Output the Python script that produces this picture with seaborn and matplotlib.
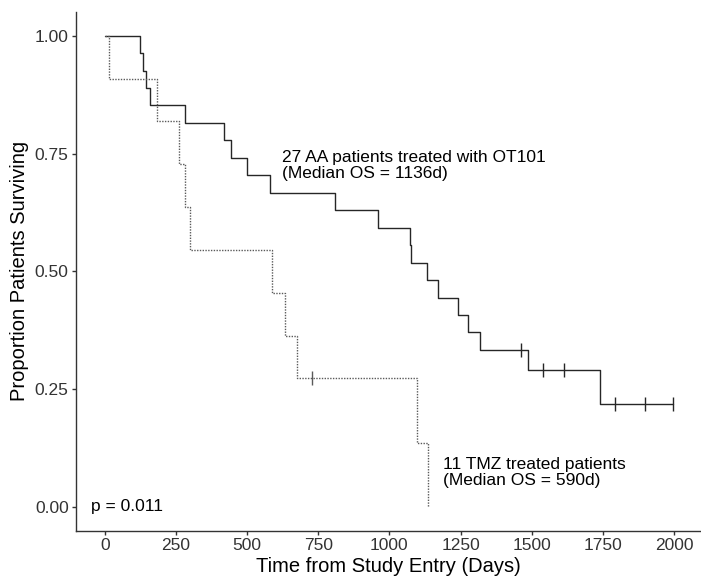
import numpy as np
import pandas as pd
import matplotlib
matplotlib.use("Agg")
import matplotlib.pyplot as plt
import seaborn as sns

# ---- data (days) ----
aa_event_times = [125, 134, 146, 158, 281, 420, 443, 499, 581, 808, 959, 1071, 1076,
                  1133, 1170, 1241, 1277, 1318, 1488, 1740]
aa_censor_times = [1464, 1541, 1541, 1612, 1792, 1897, 1995]
tmz_event_times = [14, 185, 262, 283, 300, 587, 634, 676, 1096, 1134]
tmz_censor_times = [727]

x_ticks = [0, 250, 500, 750, 1000, 1250, 1500, 1750, 2000]
y_ticks = [0.00, 0.25, 0.50, 0.75, 1.00]
label_aa = ["27 AA patients treated with OT101", "(Median OS = 1136d)"]
label_tmz = ["11 TMZ treated patients", "(Median OS = 590d)"]
p_label = "p = 0.011"


def km_curve(events, censors):
    times = sorted(set(events) | set(censors))
    n = len(events) + len(censors)
    s = 1.0
    xs, ys = [0.0], [1.0]
    cx, cy = [], []
    for t in times:
        d = events.count(t)
        c = censors.count(t)
        if d:
            s *= (1 - d / n)
        xs.append(t)
        ys.append(s)
        if c:
            cx.append(t)
            cy.append(s)
        n -= d + c
    return pd.DataFrame({"t": xs, "s": ys}), pd.DataFrame({"t": cx, "s": cy})


aa_curve, aa_cens = km_curve(aa_event_times, aa_censor_times)
tmz_curve, tmz_cens = km_curve(tmz_event_times, tmz_censor_times)

sns.set_theme(style="white")
plt.rcParams["font.family"] = ["Liberation Sans", "DejaVu Sans"]

fig = plt.figure(figsize=(7.01, 5.78), dpi=100)
ax = fig.add_axes([76.3 / 701, (578 - 530.6) / 578, (701 - 76.3) / 701, (530.6 - 12.1) / 578])

solid_col = "#262626"
dot_col = "#5a5a5a"

sns.lineplot(data=aa_curve, x="t", y="s", estimator=None, sort=False, ax=ax,
             drawstyle="steps-post", color=solid_col, lw=1.0)
sns.lineplot(data=tmz_curve, x="t", y="s", estimator=None, sort=False, ax=ax,
             drawstyle="steps-post", color=dot_col, lw=1.0, linestyle=(0, (1, 1)))
sns.scatterplot(data=aa_cens, x="t", y="s", marker="|", s=90, color=solid_col,
                linewidth=1.0, ax=ax)
sns.scatterplot(data=tmz_cens, x="t", y="s", marker="|", s=90, color=dot_col,
                linewidth=1.0, ax=ax)

ax.set_xlim(-99.75, 2094.75)
ax.set_ylim(-0.05, 1.05)
ax.set_xticks(x_ticks)
ax.set_xticklabels([str(v) for v in x_ticks])
ax.set_yticks(y_ticks)
ax.set_yticklabels([f"{v:.2f}" for v in y_ticks])

for side in ["top", "right"]:
    ax.spines[side].set_visible(False)
for side in ["left", "bottom"]:
    ax.spines[side].set_color("#333333")
    ax.spines[side].set_linewidth(1.0)

ax.tick_params(axis="both", which="both", length=3, width=1.0, color="#333333",
               labelsize=12.5, labelcolor="#333333", direction="out", pad=2.5,
               bottom=True, left=True)

ax.set_xlabel("Time from Study Entry (Days)", fontsize=14.5, color="black", labelpad=2.5)
ax.set_ylabel("Proportion Patients Surviving", fontsize=14.5, color="black", labelpad=4.5)

ax.text(622, 0.7327, label_aa[0], fontsize=12.5, va="baseline", ha="left", color="black")
ax.text(622, 0.6987, label_aa[1], fontsize=12.5, va="baseline", ha="left", color="black")
ax.text(1189, 0.080, label_tmz[0], fontsize=12.5, va="baseline", ha="left", color="black")
ax.text(1189, 0.0467, label_tmz[1], fontsize=12.5, va="baseline", ha="left", color="black")
ax.text(-49, -0.008, p_label, fontsize=12.5, va="baseline", ha="left", color="black")

fig.savefig("out.png", dpi=100)
